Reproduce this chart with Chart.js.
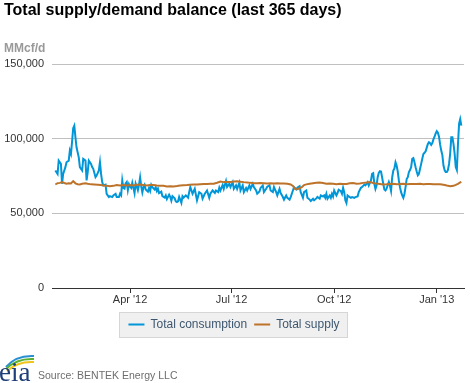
<!DOCTYPE html>
<html><head><meta charset="utf-8">
<script src="https://cdn.jsdelivr.net/npm/chart.js@4.4.1/dist/chart.umd.min.js"></script>
<style>
html,body{margin:0;padding:0;background:#fff;width:470px;height:383px;overflow:hidden;}
#wrap{position:relative;width:470px;height:383px;}
canvas{position:absolute;left:0;top:0;}
#src{position:absolute;left:38px;top:368px;font:10.5px/14px "Liberation Sans",Arial,sans-serif;color:#6e6e6e;white-space:nowrap;}
#logo{position:absolute;left:0;top:343px;}
</style></head>
<body><div id="wrap"><canvas id="c" width="470" height="383"></canvas>
<svg id="logo" width="36" height="40" viewBox="0 0 36 40">
 <path d="M6 24 Q16 12 34 13" stroke="#2a8fd0" stroke-width="2" fill="none"/>
 <path d="M6 26 Q17 15 34 16" stroke="#5ab031" stroke-width="2" fill="none"/>
 <path d="M7 28 Q18 18 34 19" stroke="#f0c419" stroke-width="2" fill="none"/>
 <text x="-1" y="38" font-family="Liberation Serif, DejaVu Serif, serif" font-size="27" fill="#1f3f7a">eia</text>
</svg>
<div id="src">Source: BENTEK Energy LLC</div></div>
<script>
// day 0 = 24 Jan 2012
const xTickDays = [68, 159, 251, 343];
const xTickLabels = ["Apr '12", "Jul '12", "Oct '12", "Jan '13"];
const yTicks = [0, 50000, 100000, 150000];

// Total consumption, MMcf/d  [day, value]
const consumption = [
[1,78700],[3,76400],[4,85300],[6,83100],[7,69800],[8,76400],[10,80900],[11,84200],[13,85300],[14,92000],
[15,89800],[16,98000],[17,107000],[18,108700],[19,101000],[20,94200],[22,87500],[23,80900],[25,78700],[26,86500],
[28,85300],[29,72000],[30,77500],[31,85300],[33,83100],[34,81000],[35,79800],[37,74200],[38,75300],[40,78700],
[41,84200],[42,76400],[43,70900],[44,68700],[46,69200],[47,63100],[49,60900],[50,61500],[52,60900],[53,62000],
[55,63100],[56,60900],[58,60900],[59,63100],
[60,62000],[61,72000],[62,67000],[63,66500],[64,70000],[65,71000],[66,65500],[67,69500],[68,68000],[69,67000],
[70,70500],[72,63500],[73,70000],[74,68000],[75,65500],[76,69000],[77,74000],[78,68000],[79,64000],[80,67500],
[81,69000],[82,66000],[84,64500],[85,67000],[86,65000],[87,69000],[88,67500],[90,66000],[91,67500],[92,65000],
[93,66500],[94,63500],[96,64500],[97,61500],[99,60500],[100,62000],[101,59500],[103,62500],[104,61000],[105,58500],
[106,61500],[108,60000],[109,58000],[110,57500],[111,58000],[112,61000],[113,59000],[114,57000],[115,61500],[116,60500],
[118,62000],[120,60500],[121,64200],[122,67600],[124,63100],[126,66400],[128,58700],[130,64200],[132,63100],[133,59800],
[135,63100],[137,65300],[139,60400],[140,63100],[142,65300],[144,63600],[145,65300],[147,64200],[148,67200],[149,65300],
[151,69000],[152,66400],[154,71600],[155,67600],[157,69800],[158,67600],[160,70900],[161,66400],[163,68700],[164,66400],
[166,70500],[167,65300],[169,68700],[170,64200],[172,67000],[173,65300],[175,68700],[176,66400],[178,69800],[179,67600],
[181,65300],[182,63100],[184,64600],[185,67000],[187,68700],[188,64200],[190,66400],[191,67800],[193,68700],[194,65300],
[196,64200],[197,67600],[199,64200],[200,62000],[202,66400],[203,63600],[205,60900],[206,59200],[208,62000],[209,60400],
[211,59200],[212,60900],[214,65300],[215,67600],[217,66000],[218,67200],[220,68200],[221,64200],[223,60400],[224,64200],
[226,65300],[227,60400],[229,59200],[230,58300],[232,59800],[233,58700],[235,60000],[236,61000],[238,59800],[239,62000],
[241,61300],[242,62000],[243,60400],[244,63100],[245,59800],[247,62000],[248,60400],[249,63100],[250,61300],[251,65300],
[253,62000],[254,63600],[255,65800],[257,64900],[258,63100],[259,67100],[260,64200],[261,58700],[262,56900],[263,62000],
[264,61300],[266,60400],[267,60900],[269,60400],[270,60900],[272,61300],[273,64200],[275,67100],[276,67600],[278,69300],
[279,68700],[281,70900],[282,68700],[284,72000],[285,76400],[286,76900],[287,69800],[288,66400],[289,68700],[290,74200],
[291,77100],[292,78200],[293,78000],[294,74000],[295,69800],[296,66000],[297,65300],[298,66500],[299,69000],[300,71000],
[301,68500],[302,65000],[303,74000],[304,78700],[305,80000],[306,84200],[307,82000],[308,78000],[309,72000],[310,67500],
[311,64200],[312,62000],[313,60400],[314,63000],[315,67600],[316,73000],[317,74200],[318,77600],[319,79000],[320,80900],
[321,86500],[322,87000],[323,84200],[324,80900],[325,78000],[326,75500],[327,76500],[328,79800],[329,83100],[330,86500],
[331,89800],[332,90500],[333,91500],[334,94000],[335,96400],[336,97600],[337,97000],[338,95800],[339,97000],[340,99500],
[341,101300],[342,103500],[343,105000],[344,104000],[345,101300],[346,96000],[347,92000],[348,89000],[349,82000],[350,79000],
[351,77600],[352,77600],[353,79000],[354,83100],[355,90000],[356,101000],[357,101000],[358,96400],[359,90000],[360,81000],
[361,79000],[362,96400],[363,110000],[364,113100],[365,108700]
];

// Total supply, MMcf/d  [day, value]
const supply = [
[1,69300],[3,70200],[5,70400],[7,70900],[9,70300],[11,69900],[13,70200],[15,70000],[17,71600],[19,70100],
[21,69500],[23,69300],[25,69800],[28,70200],[30,69800],[33,69400],[36,69300],[39,69200],[42,68900],[44,68700],
[47,68500],[50,68200],[53,68400],[56,68900],[59,68700],[62,68900],[65,68700],[68,68900],[71,68700],[74,69100],
[77,69300],[80,68900],[83,68700],[86,68900],[89,69000],[92,68700],[95,68500],[98,68400],[101,68000],[104,68200],
[107,68000],[110,68300],[113,68700],[116,68800],[119,68900],[122,69100],[125,69300],[128,69300],[131,69500],[134,69600],
[137,69700],[140,69800],[143,69800],[146,70500],[149,71300],[152,70900],[155,70900],[158,71000],[161,71300],[164,71500],
[167,71200],[170,70900],[173,70700],[176,70400],[179,70200],[182,70200],[185,70300],[188,70200],[191,70000],[194,70100],
[197,70000],[200,70100],[203,69900],[206,69900],[209,69800],[212,69300],[214,68300],[216,66300],[218,66200],[220,66800],
[222,67600],[224,68900],[226,69400],[229,69800],[232,70200],[235,70500],[238,70700],[241,70300],[244,69800],[247,70000],
[250,69800],[253,69500],[256,69800],[259,69600],[262,69700],[265,70100],[268,70300],[271,69800],[274,70000],[277,70400],
[280,70600],[283,70900],[286,70300],[289,69900],[292,69600],[295,69300],[298,69400],[301,69600],[304,69800],[307,69500],
[310,69600],[313,69800],[316,69500],[319,69700],[322,69600],[325,69700],[328,69800],[331,69500],[334,69600],[337,69600],
[340,69500],[343,69400],[346,69400],[349,69100],[352,68600],[355,68200],[358,68400],[360,69000],[362,69800],[364,70700],
[365,71100]
];

Chart.defaults.font.family = '"Liberation Sans", Arial, sans-serif';

const legendBg = {
  id: 'legendBg',
  beforeDraw(chart) {
    const lg = chart.legend;
    if (!lg || !lg.legendHitBoxes || !lg.legendHitBoxes.length) return;
    const b = lg.legendHitBoxes;
    const l = Math.min(...b.map(h => h.left));
    const r = Math.max(...b.map(h => h.left + h.width));
    const t = Math.min(...b.map(h => h.top));
    const c = chart.ctx;
    c.save();
    c.fillStyle = '#f0f0f0';
    c.strokeStyle = '#d6d6d6';
    c.lineWidth = 1;
    const x0 = Math.round(l - 9) + 0.5, y0 = Math.round(t - 6.5) + 0.5;
    const w = Math.round(r - l + 17), h = 25;
    c.fillRect(x0, y0, w, h);
    c.strokeRect(x0, y0, w, h);
    c.restore();
  }
};

new Chart(document.getElementById('c'), {
  type: 'line',
  data: {
    datasets: [
      { label: 'Total consumption', data: consumption.map(([x, y]) => ({x, y})),
        borderColor: '#0096d7', backgroundColor: '#0096d7', borderWidth: 2, pointRadius: 0, order: 1 },
      { label: 'Total supply', data: supply.map(([x, y]) => ({x, y})),
        borderColor: '#bd732a', backgroundColor: '#bd732a', borderWidth: 2, pointRadius: 0, order: 0 }
    ]
  },
  options: {
    responsive: false, animation: false, devicePixelRatio: 1,
    layout: { padding: { left: 4, right: 6, top: 0, bottom: 42.5 } },
    plugins: {
      title: { display: true, text: 'Total supply/demand balance (last 365 days)', align: 'start', color: '#000',
        font: { size: 16, weight: 'bold' }, padding: { top: 1, bottom: 0 } },
      subtitle: { display: true, text: 'MMcf/d', align: 'start', color: '#999',
        font: { size: 12, weight: 'bold' }, padding: { top: 21.6, bottom: 7.8 } },
      legend: { position: 'bottom',
        labels: { usePointStyle: true, pointStyle: 'line', pointStyleWidth: 16, boxHeight: 12,
          color: '#3e576f', font: { size: 12 }, padding: 7,
          sort: (a, b) => a.datasetIndex - b.datasetIndex } },
      tooltip: { enabled: false }
    },
    scales: {
      x: { type: 'linear', min: -2, max: 367.4,
        afterBuildTicks: s => { s.ticks = xTickDays.map(v => ({ value: v })); },
        ticks: { autoSkip: false, maxRotation: 0, color: '#333', font: { size: 11 }, padding: 0,
          callback: v => { const i = xTickDays.indexOf(v); return i >= 0 ? xTickLabels[i] : ''; } },
        grid: { drawOnChartArea: false, drawTicks: true, tickLength: 5, color: '#333' },
        border: { display: true, color: '#333' },
        afterFit: s => { s.height = 23.5; } },
      y: { min: 0, max: 150000,
        afterBuildTicks: s => { s.ticks = yTicks.map(v => ({ value: v })); },
        ticks: { color: '#333', font: { size: 11 }, padding: 8,
          callback: v => v.toLocaleString('en-US') },
        grid: { drawTicks: false, color: c => (c.tick && c.tick.value === 0) ? 'rgba(0,0,0,0)' : '#c0c0c0' },
        border: { display: false },
        afterFit: s => { s.width = 48; } }
    }
  },
  plugins: [legendBg]
});
</script>
</body></html>
